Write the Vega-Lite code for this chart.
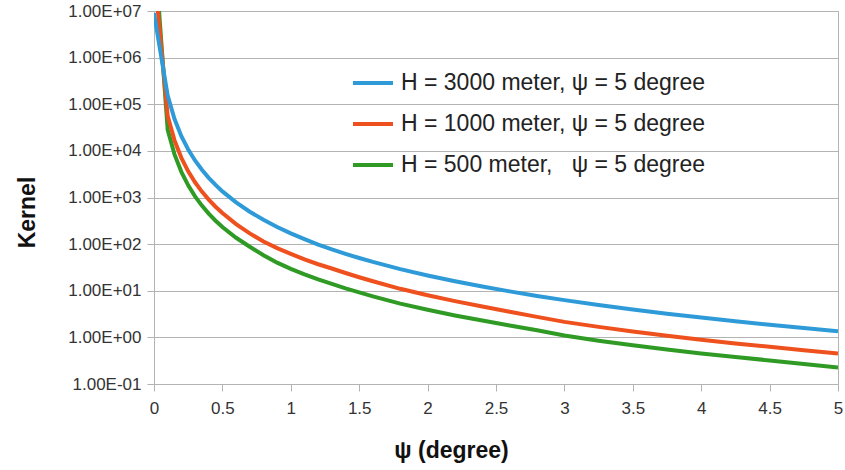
{
  "$schema": "https://vega.github.io/schema/vega-lite/v6.json",
  "autosize": {"type": "none"},
  "width": 684,
  "height": 373,
  "padding": {"left": 154, "top": 11, "right": 7, "bottom": 86},
  "background": "white",
  "config": {
    "font": "Liberation Sans",
    "view": {"stroke": "#b3b3b3", "strokeWidth": 1}
  },
  "datasets": {
    "green": [
      {"psi": 0, "k": 3.1e8}, {"psi": 0.1, "k": 28300}, {"psi": 0.15, "k": 8400}, {"psi": 0.2, "k": 3550},
      {"psi": 0.25, "k": 1820}, {"psi": 0.3, "k": 1060}, {"psi": 0.35, "k": 670}, {"psi": 0.4, "k": 450},
      {"psi": 0.45, "k": 318}, {"psi": 0.5, "k": 233}, {"psi": 0.6, "k": 137}, {"psi": 0.7, "k": 88},
      {"psi": 0.8, "k": 58}, {"psi": 0.9, "k": 40}, {"psi": 1.0, "k": 29.5}, {"psi": 1.1, "k": 22.5},
      {"psi": 1.2, "k": 17.5}, {"psi": 1.3, "k": 14.0}, {"psi": 1.4, "k": 11.2}, {"psi": 1.5, "k": 9.2},
      {"psi": 1.6, "k": 7.6}, {"psi": 1.8, "k": 5.3}, {"psi": 2.0, "k": 3.9}, {"psi": 2.2, "k": 2.95},
      {"psi": 2.4, "k": 2.3}, {"psi": 2.6, "k": 1.8}, {"psi": 2.8, "k": 1.42}, {"psi": 3.0, "k": 1.1},
      {"psi": 3.25, "k": 0.85}, {"psi": 3.5, "k": 0.68}, {"psi": 3.75, "k": 0.55}, {"psi": 4.0, "k": 0.45},
      {"psi": 4.25, "k": 0.38}, {"psi": 4.5, "k": 0.32}, {"psi": 4.75, "k": 0.27}, {"psi": 5.0, "k": 0.225}
    ],
    "red": [
      {"psi": 0, "k": 7.8e7}, {"psi": 0.1, "k": 56000}, {"psi": 0.15, "k": 16800}, {"psi": 0.2, "k": 7100},
      {"psi": 0.25, "k": 3650}, {"psi": 0.3, "k": 2120}, {"psi": 0.35, "k": 1340}, {"psi": 0.4, "k": 900},
      {"psi": 0.45, "k": 635}, {"psi": 0.5, "k": 465}, {"psi": 0.6, "k": 268}, {"psi": 0.7, "k": 170},
      {"psi": 0.8, "k": 114}, {"psi": 0.9, "k": 82}, {"psi": 1.0, "k": 62}, {"psi": 1.1, "k": 47},
      {"psi": 1.2, "k": 37}, {"psi": 1.3, "k": 30}, {"psi": 1.4, "k": 24}, {"psi": 1.5, "k": 19.5},
      {"psi": 1.6, "k": 16}, {"psi": 1.8, "k": 11.0}, {"psi": 2.0, "k": 8.0}, {"psi": 2.2, "k": 6.0},
      {"psi": 2.4, "k": 4.6}, {"psi": 2.6, "k": 3.55}, {"psi": 2.8, "k": 2.75}, {"psi": 3.0, "k": 2.15},
      {"psi": 3.25, "k": 1.68}, {"psi": 3.5, "k": 1.33}, {"psi": 3.75, "k": 1.08}, {"psi": 4.0, "k": 0.89},
      {"psi": 4.25, "k": 0.74}, {"psi": 4.5, "k": 0.63}, {"psi": 4.75, "k": 0.53}, {"psi": 5.0, "k": 0.45}
    ],
    "blue": [
      {"psi": 0, "k": 9.0e6}, {"psi": 0.1, "k": 153000}, {"psi": 0.15, "k": 48100}, {"psi": 0.2, "k": 20700},
      {"psi": 0.25, "k": 10700}, {"psi": 0.3, "k": 6220}, {"psi": 0.35, "k": 3930}, {"psi": 0.4, "k": 2640},
      {"psi": 0.45, "k": 1860}, {"psi": 0.5, "k": 1350}, {"psi": 0.6, "k": 785}, {"psi": 0.7, "k": 495},
      {"psi": 0.8, "k": 332}, {"psi": 0.9, "k": 233}, {"psi": 1.0, "k": 170}, {"psi": 1.1, "k": 128},
      {"psi": 1.2, "k": 98}, {"psi": 1.3, "k": 77}, {"psi": 1.4, "k": 62}, {"psi": 1.5, "k": 50.4},
      {"psi": 1.6, "k": 41.5}, {"psi": 1.8, "k": 29.1}, {"psi": 2.0, "k": 21.3}, {"psi": 2.2, "k": 16.0},
      {"psi": 2.4, "k": 12.3}, {"psi": 2.6, "k": 9.7}, {"psi": 2.8, "k": 7.75}, {"psi": 3.0, "k": 6.3},
      {"psi": 3.25, "k": 4.95}, {"psi": 3.5, "k": 3.97}, {"psi": 3.75, "k": 3.22}, {"psi": 4.0, "k": 2.66},
      {"psi": 4.25, "k": 2.21}, {"psi": 4.5, "k": 1.87}, {"psi": 4.75, "k": 1.59}, {"psi": 5.0, "k": 1.36}
    ]
  },
  "encoding": {
    "x": {
      "field": "psi",
      "type": "quantitative",
      "scale": {"domain": [0, 5], "nice": false, "zero": false},
      "axis": {
        "title": "ψ (degree)",
        "values": [0, 0.5, 1, 1.5, 2, 2.5, 3, 3.5, 4, 4.5, 5],
        "format": "~g",
        "grid": false,
        "domainColor": "#b3b3b3",
        "tickColor": "#b3b3b3",
        "tickSize": 7,
        "labelFontSize": 17,
        "labelColor": "#333333",
        "labelPadding": 9,
        "labelFlush": false,
        "titleFontSize": 23,
        "titleFontWeight": "bold",
        "titleColor": "#111111",
        "titleBaseline": "middle",
        "titleAlign": "center",
        "titleX": 297,
        "titleY": 66
      }
    },
    "y": {
      "field": "k",
      "type": "quantitative",
      "scale": {"type": "log", "domain": [0.1, 10000000], "nice": false},
      "axis": {
        "title": "Kernel",
        "values": [0.1, 1, 10, 100, 1000, 10000, 100000, 1000000, 10000000],
        "labelExpr": "'1.00E' + (round(log(datum.value)/LN10) < 0 ? '-' : '+') + (abs(round(log(datum.value)/LN10)) < 10 ? '0' : '') + abs(round(log(datum.value)/LN10))",
        "grid": true,
        "gridColor": "#b3b3b3",
        "domainColor": "#b3b3b3",
        "tickColor": "#b3b3b3",
        "tickSize": 7,
        "labelFontSize": 17,
        "labelColor": "#333333",
        "labelPadding": 6,
        "labelFlush": false,
        "titleFontSize": 23,
        "titleFontWeight": "bold",
        "titleColor": "#111111",
        "titleBaseline": "middle",
        "titleX": -127,
        "titleY": 201
      }
    },
    "color": {
      "field": "series",
      "type": "nominal",
      "scale": {
        "domain": ["H = 3000 meter, ψ = 5 degree", "H = 1000 meter, ψ = 5 degree", "H = 500 meter,\u00a0\u00a0\u00a0ψ = 5 degree"],
        "range": ["#2e9bd8", "#ee501e", "#2f9b25"]
      },
      "legend": {
        "title": null,
        "orient": "none",
        "legendX": 197,
        "legendY": 50,
        "symbolType": "stroke",
        "symbolSize": 1600,
        "symbolStrokeWidth": 4,
        "labelFontSize": 23,
        "labelColor": "#222222",
        "labelOffset": 6,
        "rowPadding": 7,
        "labelLimit": 400
      }
    }
  },
  "layer": [
    {
      "data": {"name": "green"},
      "transform": [{"calculate": "'H = 500 meter,\u00a0\u00a0\u00a0ψ = 5 degree'", "as": "series"}],
      "mark": {"type": "line", "strokeWidth": 4, "clip": true}
    },
    {
      "data": {"name": "red"},
      "transform": [{"calculate": "'H = 1000 meter, ψ = 5 degree'", "as": "series"}],
      "mark": {"type": "line", "strokeWidth": 4, "clip": true}
    },
    {
      "data": {"name": "blue"},
      "transform": [{"calculate": "'H = 3000 meter, ψ = 5 degree'", "as": "series"}],
      "mark": {"type": "line", "strokeWidth": 4, "clip": true}
    }
  ]
}
